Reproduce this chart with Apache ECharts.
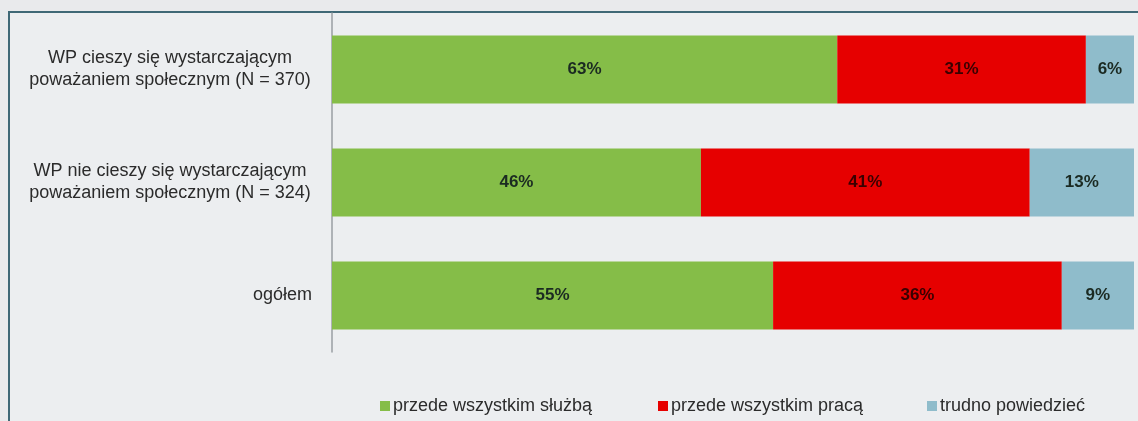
<!DOCTYPE html>
<html>
<head>
<meta charset="utf-8">
<script src="https://cdn.jsdelivr.net/npm/echarts@6/dist/echarts.min.js"></script>
<style>
html,body{margin:0;padding:0;background:#e9eaec;}
#frame{position:absolute;left:8px;top:11px;width:1140px;height:420px;border-left:2px solid #3f6876;border-top:2px solid #3f6876;background:#eceef0;}
#chart{position:absolute;left:0;top:0;width:1138px;height:421px;}
</style>
</head>
<body>
<div id="frame"></div>
<div id="chart"></div>
<script>
const categories = [
  'WP cieszy się wystarczającym\npoważaniem społecznym (N = 370)',
  'WP nie cieszy się wystarczającym\npoważaniem społecznym (N = 324)',
  'ogółem'
];
const seriesNames = ['przede wszystkim służbą', 'przede wszystkim pracą', 'trudno powiedzieć'];
const sluzba = [63, 46, 55];
const praca = [31, 41, 36];
const trudno = [6, 13, 9];
const colors = ['#85bd48', '#e60000', '#8fbccb'];

const FONT = 'Liberation Sans, Arial, sans-serif';
const chart = echarts.init(document.getElementById('chart'), null, {renderer: 'canvas'});
const labelStyle = {
  show: true, position: 'inside', formatter: '{c}%',
  fontFamily: FONT, fontWeight: 'bold',
  fontSize: 17, color: '#1b2a22'
};
function mk(name, data, i) {
  return {
    name: name, type: 'bar', stack: 'total', data: data,
    barCategoryGap: '40%',
    itemStyle: {color: colors[i]},
    label: Object.assign({}, labelStyle, i === 1 ? {color: '#3a0000'} : {}),
    emphasis: {disabled: true}
  };
}
const legendBase = {
  orient: 'horizontal', top: 392, itemWidth: 10, itemHeight: 10, itemGap: 6,
  icon: 'rect',
  textStyle: {fontFamily: FONT, fontSize: 18, color: '#2b2b2b', padding: [0, 0, 0, -2]}
};
chart.setOption({
  animation: false,
  grid: {left: 332, right: 4, top: 13, bottom: 69, containLabel: false},
  xAxis: {type: 'value', min: 0, max: 100, show: false},
  yAxis: {
    type: 'category', data: categories, inverse: true,
    axisLine: {show: true, lineStyle: {color: '#9a9ea3', width: 1.5}},
    axisTick: {show: false},
    axisLabel: {
      margin: 20, fontFamily: FONT, fontSize: 18,
      color: '#2b2b2b', lineHeight: 22, align: 'right',
      formatter: function (v) {
        if (v.indexOf('\n') < 0) return v;
        return v.split('\n').map(function (s) { return '{c|' + s + '}'; }).join('\n');
      },
      rich: {c: {width: 284, align: 'center', fontFamily: FONT, fontSize: 18, color: '#2b2b2b', lineHeight: 22}}
    }
  },
  legend: [
    Object.assign({}, legendBase, {left: 375, data: [seriesNames[0]]}),
    Object.assign({}, legendBase, {left: 653, data: [seriesNames[1]]}),
    Object.assign({}, legendBase, {left: 922, data: [seriesNames[2]]})
  ],
  series: [mk(seriesNames[0], sluzba, 0), mk(seriesNames[1], praca, 1), mk(seriesNames[2], trudno, 2)]
});
</script>
</body>
</html>
